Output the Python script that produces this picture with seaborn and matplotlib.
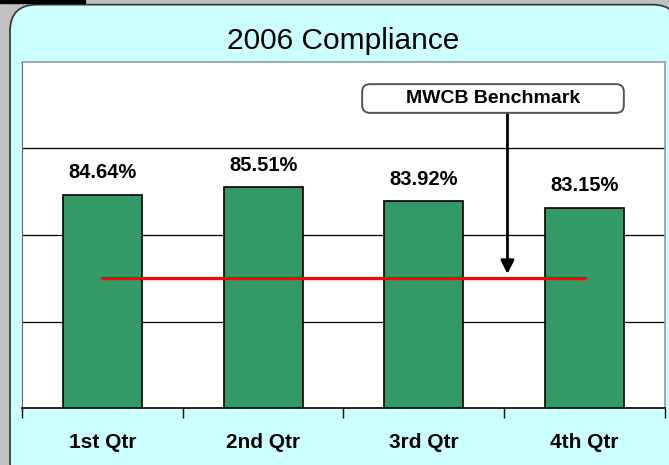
import matplotlib.pyplot as plt
import numpy as np
import pandas as pd
import seaborn as sns
from matplotlib.patches import FancyBboxPatch, Rectangle

quarters = ["1st Qtr", "2nd Qtr", "3rd Qtr", "4th Qtr"]
compliance = [84.64, 85.51, 83.92, 83.15]
benchmark = [75, 75, 75, 75]
title = "2006 Compliance"
benchmark_label = "MWCB Benchmark"

sns.set_style("white")
plt.rcParams['font.family'] = ['Liberation Sans', 'DejaVu Sans']
plt.rcParams['text.color'] = 'black'
plt.rcParams['xtick.color'] = 'black'

df = pd.DataFrame({"quarter": quarters, "compliance": compliance})

fig = plt.figure(figsize=(6.69, 4.65), dpi=100)
fig.patch.set_facecolor("#C0C0C0")

# cyan rounded panel behind everything
panel = FancyBboxPatch((10 / 669, -0.05), 1.0, 1.04, transform=fig.transFigure,
                       boxstyle="round,pad=0,rounding_size=0.04",
                       facecolor="#CCFFFF", edgecolor="#333333", linewidth=1.2,
                       mutation_aspect=669 / 465, zorder=-10)
fig.patches.append(panel)
fig.patches.append(Rectangle((0, 1 - 3 / 465), 85 / 669, 3 / 465,
                             transform=fig.transFigure, color="black", zorder=-10))

ax = fig.add_axes([22 / 669, 57 / 465, 643 / 669, 346 / 465])
ax.set_zorder(1)
ax.set_facecolor("white")

sns.barplot(data=df, x="quarter", y="compliance", color="#339966",
            saturation=1, edgecolor="black", linewidth=1.2, width=0.49, ax=ax)
ax.plot(range(len(quarters)), benchmark, color="#FF0000", lw=2.4, zorder=4)

ax.set_ylim(60, 100)
ax.set_xlim(-0.5, len(quarters) - 0.5)
ax.set_yticks([70, 80, 90])
ax.set_yticklabels([])
ax.tick_params(axis="y", length=0)
ax.yaxis.grid(True, color="black", linewidth=0.9)
ax.set_axisbelow(True)

ax.bar_label(ax.containers[0], labels=[f"{v:.2f}%" for v in compliance],
             padding=9, fontsize=14.5, fontweight="bold")

ax.set_xlabel("")
ax.set_ylabel("")
ax.set_xticks(range(len(quarters)))
ax.set_xticklabels(quarters, fontsize=15, fontweight="bold")
ax.tick_params(axis="x", which="major", length=0, pad=18)
ax.set_xticks(np.arange(-0.5, len(quarters), 1.0), minor=True)
ax.tick_params(axis="x", which="minor", bottom=True, length=7, width=1,
               color="black", direction="out")

for side in ["top", "right"]:
    ax.spines[side].set_color("#999999")
    ax.spines[side].set_linewidth(1.2)
ax.spines["left"].set_color("#666666")
ax.spines["bottom"].set_color("black")
ax.spines["bottom"].set_linewidth(1.2)

# benchmark callout box
box = FancyBboxPatch((0.529, 0.853), 0.407, 0.083, transform=ax.transAxes,
                     boxstyle="round,pad=0,rounding_size=0.012",
                     facecolor="white", edgecolor="#555555", linewidth=1.4,
                     mutation_aspect=643 / 346, zorder=6)
ax.add_patch(box)
ax.text(0.529 + 0.407 / 2, 0.853 + 0.083 / 2, benchmark_label,
        transform=ax.transAxes, ha="center", va="center", fontsize=14,
        fontweight="bold", zorder=7)
ax.annotate("", xy=(2.52, 75.5), xytext=(2.52, 94.1),
            arrowprops=dict(arrowstyle="-|>", color="black", lw=2,
                            mutation_scale=20, shrinkA=0, shrinkB=0), zorder=5)

fig.text((22 + 665) / 2 / 669, 1 - 41 / 465, title, ha="center", va="center",
         fontsize=21.5)

fig.savefig("out.png", dpi=100, facecolor=fig.get_facecolor())
